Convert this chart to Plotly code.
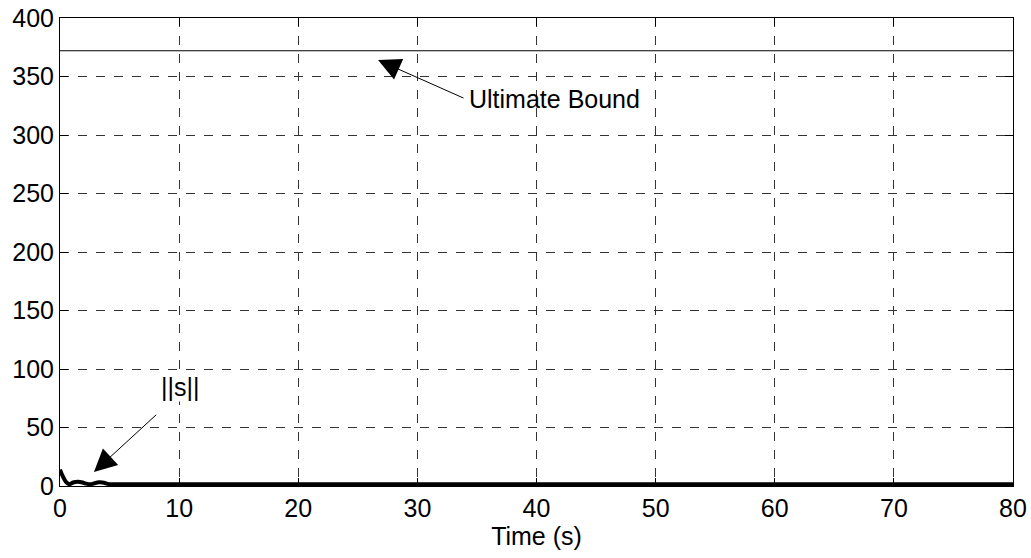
import plotly.graph_objects as go

# data
t_s = [0, 0.2, 0.5, 0.8, 1.1, 1.5, 1.9, 2.2, 2.6, 2.9, 3.3, 3.7, 4.0, 4.3, 80]
s_norm = [14, 9, 3.5, 1.5, 3.0, 3.6, 3.0, 2.0, 1.5, 2.4, 3.1, 2.8, 1.8, 1.5, 1.5]
t_bound = [0, 80]
ultimate_bound = [372, 372]
x_ticks = list(range(0, 81, 10))
y_ticks = list(range(0, 401, 50))

FONT = "Liberation Sans, Arial, sans-serif"
FS = 25

fig = go.Figure()
fig.add_trace(go.Scatter(x=t_bound, y=ultimate_bound, mode="lines",
                         line=dict(color="black", width=1), showlegend=False))
fig.add_trace(go.Scatter(x=t_s, y=s_norm, mode="lines",
                         line=dict(color="black", width=4, shape="spline", smoothing=0.5),
                         showlegend=False))

fig.add_annotation(x=26.7, y=364, ax=34, ay=331, xref="x", yref="y", axref="x", ayref="y",
                   showarrow=True, arrowhead=2, arrowsize=4.5, arrowwidth=1, arrowcolor="black",
                   text="")
fig.add_annotation(x=34.2, y=331, xref="x", yref="y", text="Ultimate Bound", showarrow=False,
                   xanchor="left", yanchor="middle", font=dict(family=FONT, size=FS, color="black"))
fig.add_annotation(x=2.85, y=12, ax=8.2, ay=62, xref="x", yref="y", axref="x", ayref="y",
                   showarrow=True, arrowhead=2, arrowsize=4.5, arrowwidth=1, arrowcolor="black",
                   text="")
fig.add_annotation(x=10.1, y=85, xref="x", yref="y", text="||s||", showarrow=False,
                   bgcolor="white", borderpad=0,
                   xanchor="center", yanchor="middle", font=dict(family=FONT, size=FS, color="black"))

axis_common = dict(showline=True, linecolor="black", linewidth=1, mirror="allticks",
                   ticks="inside", ticklen=8, tickcolor="black", tickwidth=1,
                   showgrid=True, gridcolor="#333333", griddash="dash", gridwidth=1,
                   zeroline=False, automargin=False,
                   tickfont=dict(family=FONT, size=FS, color="black"))

fig.update_xaxes(range=[0, 80], tickvals=x_ticks, title=dict(text="Time (s)", standoff=2,
                 font=dict(family=FONT, size=FS, color="black")), **axis_common)
fig.update_yaxes(range=[0, 400], tickvals=y_ticks, **axis_common)

fig.update_layout(width=1031, height=558, margin=dict(l=60, r=18, t=18, b=72),
                  paper_bgcolor="white", plot_bgcolor="white",
                  font=dict(family=FONT, size=FS, color="black"))

fig.write_html("out.html")
